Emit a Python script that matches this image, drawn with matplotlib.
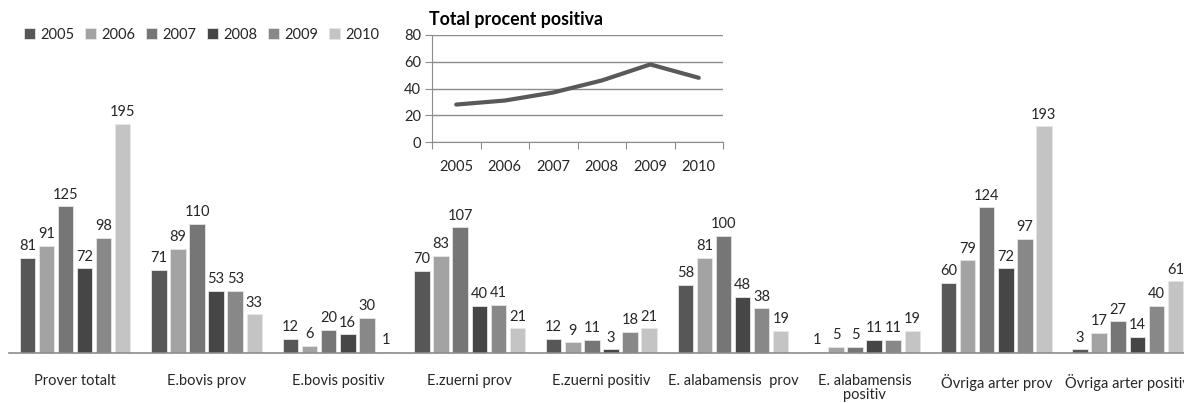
import matplotlib
matplotlib.use("Agg")
import matplotlib.pyplot as plt
import numpy as np

plt.rcParams['font.family'] = ['Lato', 'DejaVu Sans']

# data
years = ['2005', '2006', '2007', '2008', '2009', '2010']
categories = ['Prover totalt', 'E.bovis prov', 'E.bovis positiv', 'E.zuerni prov',
              'E.zuerni positiv', 'E. alabamensis  prov', 'E. alabamensis\npositiv',
              'Övriga arter prov', 'Övriga arter positiv']
values = {
    '2005': [81, 71, 12, 70, 12, 58, 1, 60, 3],
    '2006': [91, 89, 6, 83, 9, 81, 5, 79, 17],
    '2007': [125, 110, 20, 107, 11, 100, 5, 124, 27],
    '2008': [72, 53, 16, 40, 3, 48, 11, 72, 14],
    '2009': [98, 53, 30, 41, 18, 38, 11, 97, 40],
    '2010': [195, 33, 1, 21, 21, 19, 19, 193, 61],
}
pct_positive = [28, 31, 37, 46, 58, 48]

colors = ['#575757', '#a3a3a3', '#767676', '#464646', '#888888', '#c4c4c4']
txt = '#262626'
fs = 10.5

W, H = 1184, 403
fig = plt.figure(figsize=(W / 100, H / 100), dpi=100)

# main bar chart, right side runs off the figure like the original
x0, x1 = 9.2, 1193.6
base = 353
ytop = 48
ax = fig.add_axes([x0 / W, (H - base) / H, (x1 - x0) / W, (base - ytop) / H])
ymax = (base - ytop) / 1.174

x = np.arange(len(categories))
bw = 0.118
pitch = 0.145
for i, yr in enumerate(years):
    pos = x + (i - 2.5) * pitch
    bars = ax.bar(pos, values[yr], bw, color=colors[i], edgecolor='#e6e6e6',
                  linewidth=0.6, label=yr, zorder=2)
    for b, v in zip(bars, values[yr]):
        ax.text(b.get_x() + b.get_width() / 2, v + 4, str(v), ha='center',
                va='bottom', fontsize=fs, color=txt)

ax.set_xlim(-0.5, len(categories) - 0.5)
ax.set_ylim(0, ymax)
for s in ['top', 'right', 'left']:
    ax.spines[s].set_visible(False)
ax.spines['bottom'].set_color('#8c8c8c')
ax.spines['bottom'].set_linewidth(1.2)
ax.set_yticks([])
ax.set_xticks(x)
ax.set_xticklabels(categories, fontsize=fs, color=txt, linespacing=1.05)
ax.tick_params(axis='x', length=0, pad=15)
ax.patch.set_alpha(0)

leg = fig.legend(loc='upper left', bbox_to_anchor=(18 / W, 1 - 22 / H), ncol=6,
                 frameon=False, fontsize=fs, handlelength=0.75, handleheight=0.75,
                 handletextpad=0.4, columnspacing=0.7, borderaxespad=0)
for t in leg.get_texts():
    t.set_color(txt)

# inset line chart
ix0, ix1 = 432, 723
iy0, iy1 = 142, 35
ax2 = fig.add_axes([ix0 / W, (H - iy0) / H, (ix1 - ix0) / W, (iy0 - iy1) / H])
xi = np.arange(len(years))
ax2.plot(xi, pct_positive, color='#595959', lw=3, solid_capstyle='round', zorder=3)
ax2.set_xlim(-0.5, len(years) - 0.5)
ax2.set_ylim(0, 80)
ax2.set_yticks([0, 20, 40, 60, 80])
ax2.set_yticklabels(['0', '20', '40', '60', '80'], fontsize=fs, color=txt)
ax2.yaxis.grid(True, color='#8c8c8c', lw=1)
ax2.set_axisbelow(True)
ax2.set_xticks(np.arange(-0.5, len(years), 1))
ax2.set_xticklabels([])
ax2.set_xticks(xi, minor=True)
ax2.set_xticklabels(years, minor=True, fontsize=fs, color=txt)
ax2.tick_params(axis='x', which='major', direction='out', length=5, color='#8c8c8c')
ax2.tick_params(axis='x', which='minor', length=0, pad=13)
ax2.tick_params(axis='y', direction='out', length=5, color='#8c8c8c', pad=3)
for s in ['top', 'right']:
    ax2.spines[s].set_visible(False)
for s in ['left', 'bottom']:
    ax2.spines[s].set_color('#8c8c8c')
ax2.patch.set_alpha(0)
fig.text(429 / W, 1 - 19 / H, 'Total procent positiva', fontsize=12.8,
         fontweight='bold', color='#000000', va='center', ha='left')

fig.savefig('out.png', dpi=100)
